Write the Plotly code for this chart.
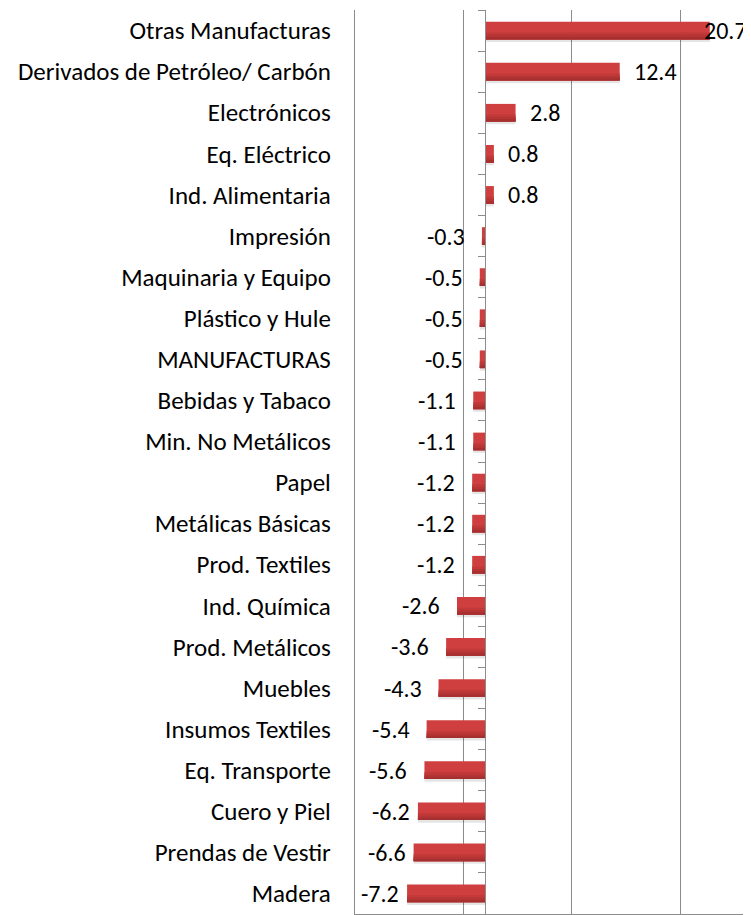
import plotly.graph_objects as go

categories = [
    "Otras Manufacturas", "Derivados de Petróleo/ Carbón", "Electrónicos",
    "Eq. Eléctrico", "Ind. Alimentaria", "Impresión", "Maquinaria y Equipo",
    "Plástico y Hule", "MANUFACTURAS", "Bebidas y Tabaco", "Min. No Metálicos",
    "Papel", "Metálicas Básicas", "Prod. Textiles", "Ind. Química",
    "Prod. Metálicos", "Muebles", "Insumos Textiles", "Eq. Transporte",
    "Cuero y Piel", "Prendas de Vestir", "Madera",
]
values = [20.7, 12.4, 2.8, 0.8, 0.8, -0.3, -0.5, -0.5, -0.5, -1.1, -1.1,
          -1.2, -1.2, -1.2, -2.6, -3.6, -4.3, -5.4, -5.6, -6.2, -6.6, -7.2]
labels = [f"{v:.1f}" for v in values]

FONT = "Carlito, Lato, sans-serif"
FS_CAT = 25
FS_VAL = 24
GRID = "#8c8c8c"

W, H = 751, 915
ML, MR, MT, MB = 347, 8, 2, 9
XMIN, XMAX = -12, 24.5
plot_w = W - ML - MR
px_per = plot_w / (XMAX - XMIN)
zero_pos = (0 - XMIN) / (XMAX - XMIN)
n = len(categories)
idx = list(range(n))

fig = go.Figure()
# soft shadow under each bar
fig.add_trace(go.Bar(y=idx, x=values, orientation="h", width=0.08, offset=0.2,
                     marker=dict(color="rgba(0,0,0,0.10)", line=dict(width=0)), hoverinfo="skip"))
# bar with shading layers (light top, darker bottom)
shades = [(0.43, -0.215, "#cf3f3f"), (0.17, 0.045, "#c23939"),
          (0.11, 0.105, "#b53434"), (0.055, 0.16, "#a62f2f")]
for w, off, col in shades:
    fig.add_trace(go.Bar(y=idx, x=values, orientation="h", width=w, offset=off,
                         marker=dict(color=col, line=dict(width=0)), hoverinfo="skip"))
# invisible trace for the zero axis with ticks
fig.add_trace(go.Scatter(y=idx, x=[0] * n, yaxis="y2", mode="markers",
                         marker=dict(opacity=0), hoverinfo="skip", showlegend=False))

for i, v, lab in zip(idx, values, labels):
    end_px = (v - XMIN) * px_per
    est_w = len(lab) * 12
    if v >= 0:
        xa, xs = ("left", -8) if end_px + 12 + est_w > plot_w else ("left", 12)
    else:
        xa, xs = ("right", -6) if end_px - 15 - est_w < 0 else ("right", -15)
    fig.add_annotation(x=v, y=i, text=lab, showarrow=False, xanchor=xa, xshift=xs,
                       yanchor="middle", font=dict(family=FONT, size=FS_VAL, color="black"))

fig.update_layout(
    width=W, height=H, margin=dict(l=ML, r=MR, t=MT, b=MB),
    paper_bgcolor="white", plot_bgcolor="white", barmode="overlay", showlegend=False,
    font=dict(family=FONT, size=FS_CAT, color="black"),
    xaxis=dict(range=[XMIN, XMAX], tick0=-12, dtick=10, showgrid=True, gridcolor=GRID,
               gridwidth=1.3, zeroline=False, showticklabels=False, ticks="",
               showline=True, linecolor=GRID, linewidth=1.3),
    yaxis=dict(range=[n - 0.5, -0.5], tickmode="array", tickvals=idx, ticktext=categories,
               showgrid=False, zeroline=False, showline=True,
               linecolor=GRID, linewidth=1.3, ticks="", ticklabelstandoff=18,
               tickfont=dict(family=FONT, size=FS_CAT, color="black")),
    yaxis2=dict(range=[n - 0.5, -0.5], overlaying="y", anchor="free", position=zero_pos,
                side="left", showgrid=False, zeroline=False, showline=True,
                linecolor=GRID, linewidth=1.3, ticks="outside", tickmode="array",
                tickvals=[i - 0.5 for i in range(n + 1)],
                ticklen=7, tickcolor=GRID, tickwidth=1.3, showticklabels=False),
)

fig.write_html("out.html")
